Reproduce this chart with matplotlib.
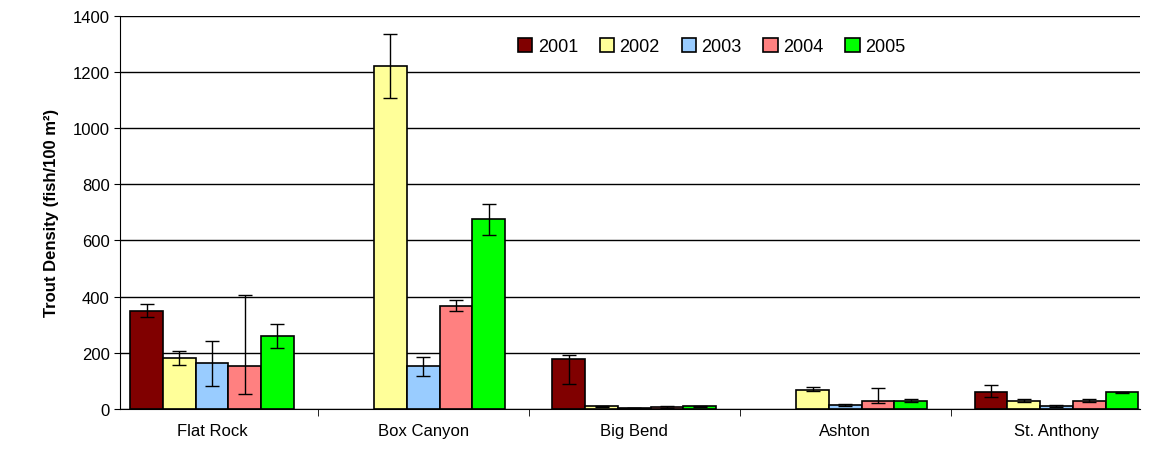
import numpy as np
import matplotlib.pyplot as plt

sites = ["Flat Rock", "Box Canyon", "Big Bend", "Ashton", "St. Anthony"]
years = ["2001", "2002", "2003", "2004", "2005"]
colors = ["#800000", "#ffff99", "#99ccff", "#ff8080", "#00ff00"]

# density per year (rows) per site (cols); nan = no sample
dens = np.array([
    [350, np.nan, 178, np.nan, 59],
    [183, 1222, 10, 69, 30],
    [163, 152, 3, 15, 9],
    [152, 368, 6, 30, 30],
    [260, 675, 10, 30, 59],
])
err_lo = np.array([
    [22, 0, 88, 0, 17],
    [25, 113, 2, 5, 4],
    [80, 33, 1, 3, 2],
    [100, 20, 3, 10, 4],
    [42, 55, 2, 4, 3],
])
err_hi = np.array([
    [22, 0, 15, 0, 26],
    [25, 113, 2, 8, 4],
    [80, 33, 1, 3, 4],
    [253, 20, 3, 45, 4],
    [42, 55, 2, 4, 3],
])

fig, ax = plt.subplots(figsize=(11.56, 4.56), dpi=100)
fig.subplots_adjust(left=0.104, right=0.986, top=0.963, bottom=0.101)

x = np.arange(len(sites))
w = 0.155
for i, yr in enumerate(years):
    pos = x + (i - 2) * w
    ax.bar(pos, dens[i], w, color=colors[i], edgecolor="black", linewidth=1.2,
           label=yr, zorder=2)
    ok = ~np.isnan(dens[i])
    ax.errorbar(pos[ok], dens[i][ok], yerr=[err_lo[i][ok], err_hi[i][ok]],
                fmt="none", ecolor="black", elinewidth=1, capsize=5, zorder=3)

ax.set_xlim(-0.435, 4.395)
ax.set_ylim(0, 1400)
ax.set_yticks(range(0, 1401, 200))
ax.set_xticks(x)
ax.set_xticklabels(sites, fontsize=12, family="Liberation Sans")
ax.set_xticks(np.arange(0.5, 4.5, 1), minor=True)
ax.tick_params(axis="x", which="major", length=0, pad=10)
ax.tick_params(axis="x", which="minor", length=5, direction="out")
ax.tick_params(axis="y", labelsize=12, direction="out", length=4)
for lb in ax.get_yticklabels():
    lb.set_family("Liberation Sans")
ax.yaxis.grid(True, color="black", linewidth=1, zorder=0)
ax.set_axisbelow(True)
for s in ["top", "right"]:
    ax.spines[s].set_visible(False)
ax.set_ylabel("Trout Density (fish/100 m²)", fontsize=12, fontweight="bold",
              family="Liberation Sans", labelpad=10)
ax.legend(ncol=5, loc="upper center", bbox_to_anchor=(0.58, 0.985), frameon=False,
          prop={"family": "Liberation Sans", "size": 13}, handlelength=0.8,
          handleheight=0.8, columnspacing=1.2, handletextpad=0.3)
fig.savefig("out.png")
